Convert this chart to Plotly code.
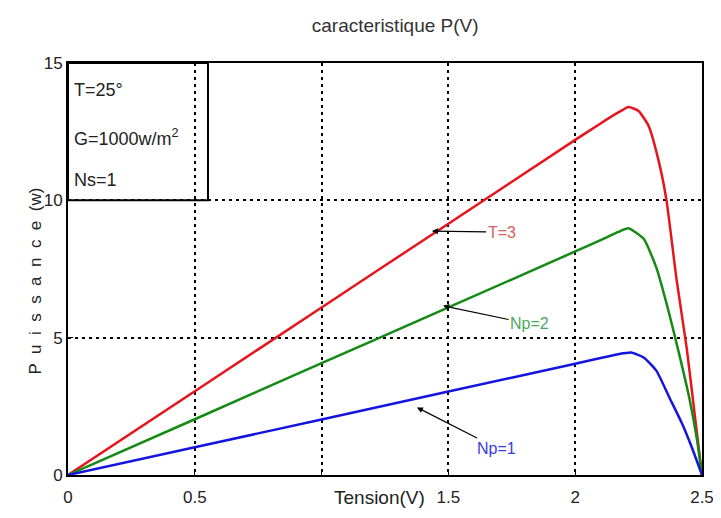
import plotly.graph_objects as go

# Data
v_np3 = [0, 0.5, 1.0, 1.5, 2.0, 2.1, 2.17, 2.21, 2.25, 2.29, 2.33, 2.36, 2.40, 2.44, 2.47, 2.5]
p_np3 = [0, 3.05, 6.1, 9.15, 12.2, 12.8, 13.2, 13.4, 13.25, 12.7, 11.4, 10.0, 7.1, 4.6, 2.3, 0]

v_np2 = [0, 0.5, 1.0, 1.5, 2.0, 2.1, 2.17, 2.21, 2.27, 2.32, 2.37, 2.41, 2.45, 2.48, 2.5]
p_np2 = [0, 2.03, 4.07, 6.1, 8.14, 8.55, 8.85, 8.98, 8.6, 7.55, 5.9, 4.4, 2.8, 1.3, 0]

v_np1 = [0, 0.5, 1.0, 1.5, 2.0, 2.1, 2.17, 2.22, 2.27, 2.32, 2.37, 2.42, 2.46, 2.5]
p_np1 = [0, 1.01, 2.02, 3.04, 4.05, 4.26, 4.4, 4.46, 4.28, 3.8, 2.85, 1.9, 1.0, 0]

x_ticks = [0, 0.5, 1.5, 2, 2.5]          # "1" label is hidden behind the x-axis title
x_hidden_ticks = [1]
y_ticks = [0, 5, 10, 15]

info_lines = ["T=25°", "G=1000w/m<sup>2</sup>", "Ns=1"]
info_y = [14.0, 12.3, 10.75]

FONT = "Liberation Sans, Arial, sans-serif"

fig = go.Figure()
line_common = dict(width=2.5, shape="spline", smoothing=0.5)
fig.add_trace(go.Scatter(x=v_np3, y=p_np3, mode="lines", line=dict(color="#e8141c", **line_common), showlegend=False))
fig.add_trace(go.Scatter(x=v_np2, y=p_np2, mode="lines", line=dict(color="#148a14", **line_common), showlegend=False))
fig.add_trace(go.Scatter(x=v_np1, y=p_np1, mode="lines", line=dict(color="#1414e0", **line_common), showlegend=False))

# info box (transparent, grid visible through it)
fig.add_shape(type="rect", x0=0, x1=0.552, y0=10, y1=15, xref="x", yref="y",
              line=dict(color="black", width=2), fillcolor="rgba(0,0,0,0)", layer="above")
for t, yy in zip(info_lines, info_y):
    fig.add_annotation(x=0.015, y=yy, xref="x", yref="y", text=t, showarrow=False,
                       xanchor="left", font=dict(family=FONT, size=18, color="#222"))

# curve labels with arrows (arrow from label to curve)
arrow = dict(showarrow=True, arrowhead=2, arrowsize=1, arrowwidth=1.2, arrowcolor="black",
             axref="x", ayref="y")
fig.add_annotation(x=1.435, y=8.88, ax=1.71, ay=8.84, text="T=3",
                   font=dict(family=FONT, size=16, color="#d9605a"), **arrow)
fig.add_annotation(x=1.479, y=6.16, ax=1.82, ay=5.5, text="Np=2",
                   font=dict(family=FONT, size=16, color="#4aa860"), **arrow)
fig.add_annotation(x=1.376, y=2.46, ax=1.69, ay=0.98, text="Np=1",
                   font=dict(family=FONT, size=16, color="#3a3ae0"), **arrow)

# axis labels
fig.add_annotation(x=0.492, y=-0.025, xref="paper", yref="paper", text="Tension(V)",
                   showarrow=False, yanchor="top", font=dict(family=FONT, size=19, color="#222"))
fig.add_annotation(x=-0.052, y=0.47, xref="paper", yref="paper",
                   text="P  u  i  s  s  a  n  c  e  (w)",
                   showarrow=False, textangle=-90, xanchor="center",
                   font=dict(family=FONT, size=17, color="#222"))

fig.update_layout(
    width=721, height=518,
    margin=dict(l=60, r=27, t=55, b=51, autoexpand=False),
    paper_bgcolor="white", plot_bgcolor="white",
    title=dict(text="caracteristique P(V)", x=0.537, xanchor="center", y=0.967, yanchor="middle",
               font=dict(family=FONT, size=19, color="#333")),
    font=dict(family=FONT, size=14, color="#222"),
)
grid = dict(gridcolor="black", gridwidth=1.5, griddash="3px,4px")
fig.update_xaxes(range=[0, 2.5], tickvals=x_ticks, automargin=False,
                 showline=True, mirror=True, linecolor="black", linewidth=2,
                 ticks="inside", ticklen=5, tickcolor="black", ticklabelstandoff=6,
                 showgrid=True, zeroline=False, tickfont=dict(size=17),
                 minor=dict(tickmode="array", tickvals=x_hidden_ticks, ticks="inside", ticklen=5,
                            tickcolor="black", showgrid=True, **grid),
                 **grid)
fig.update_yaxes(range=[0, 15], tickvals=y_ticks, automargin=False,
                 showline=True, mirror=True, linecolor="black", linewidth=2,
                 ticks="inside", ticklen=5, tickcolor="black",
                 showgrid=True, zeroline=False, tickfont=dict(size=17), **grid)

fig.write_html("out.html")
